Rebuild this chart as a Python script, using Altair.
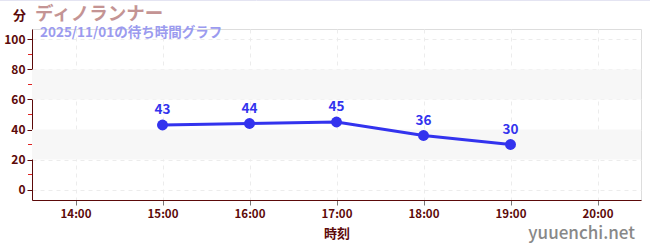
import altair as alt
import pandas as pd

hours = [15, 16, 17, 18, 19]
waits = [43, 44, 45, 36, 30]
band_lo = [20, 60]
band_hi = [40, 80]
minor_ticks = [10, 30, 50, 70, 90]
x_ticks = [14, 15, 16, 17, 18, 19, 20]
y_ticks = [0, 20, 40, 60, 80, 100]

title_text = "ディノランナー"
subtitle_text = "2025/11/01の待ち時間グラフ"
watermark = "yuuenchi.net"

df = pd.DataFrame({"hour": hours, "wait": waits})
bands = pd.DataFrame({"lo": band_lo, "hi": band_hi})
minors = pd.DataFrame({"v": minor_ticks})

AX = "#5c0a0a"
BLUE = "#3333ee"
FONT = "Noto Sans CJK JP"
W = 609

xscale = alt.Scale(domain=[13.5, 20.5], nice=False, zero=False)
yscale = alt.Scale(domain=[-7, 107], nice=False, zero=False)

xaxis = alt.Axis(values=x_ticks, labelExpr="datum.value + ':00'", title="時刻",
                 grid=True, gridDash=[4, 4], gridColor="#ececec",
                 domainColor=AX, tickColor="#777777", tickSize=5,
                 labelColor=AX, labelFont=FONT, labelFontWeight="bold", labelFontSize=11.5,
                 titleColor=AX, titleFont=FONT, titleFontWeight="bold", titleFontSize=13,
                 titlePadding=8, labelPadding=3, labelOverlap=False)
yaxis = alt.Axis(values=y_ticks, title="分", titleAngle=0, titleX=-13, titleY=-14,
                 titleAlign="center", titleBaseline="middle",
                 grid=True, gridDash=[4, 4], gridColor="#ececec",
                 domainColor=AX, tickColor=AX, tickSize=5,
                 labelColor=AX, labelFont=FONT, labelFontWeight="bold", labelFontSize=12,
                 titleColor=AX, titleFont=FONT, titleFontWeight="bold", titleFontSize=13,
                 labelPadding=2, labelOverlap=False)

band_layer = alt.Chart(bands).mark_rect(fill="#f7f7f7").encode(
    y=alt.Y("lo:Q", scale=yscale, axis=yaxis),
    y2="hi:Q",
    x=alt.value(0), x2=alt.value(W),
)

minor_layer = alt.Chart(minors).mark_rule(color="#dd2222", strokeWidth=1).encode(
    y=alt.Y("v:Q", scale=yscale, axis=yaxis),
    x=alt.value(-4), x2=alt.value(0),
)

base = alt.Chart(df).encode(
    x=alt.X("hour:Q", scale=xscale, axis=xaxis),
    y=alt.Y("wait:Q", scale=yscale, axis=yaxis),
)
line = base.mark_line(color=BLUE, strokeWidth=3)
pts = base.mark_point(filled=True, color=BLUE, size=120, opacity=1)
labels = base.mark_text(color=BLUE, dy=-15, fontSize=13.5, fontWeight="bold", font=FONT).encode(
    text="wait:Q")

txt = pd.DataFrame({"t": [title_text]})
title_layer = alt.Chart(txt).mark_text(align="left", baseline="alphabetic", fontSize=18.5,
                                       fontWeight="bold", font=FONT, color="#c49494").encode(
    x=alt.value(3), y=alt.value(-9), text="t:N")
sub = pd.DataFrame({"t": [subtitle_text]})
sub_layer = alt.Chart(sub).mark_text(align="left", baseline="alphabetic", fontSize=13.5,
                                     fontWeight="bold", font=FONT, color="#9b9bef").encode(
    x=alt.value(8), y=alt.value(8), text="t:N")
wm = pd.DataFrame({"t": [watermark]})
wm_layer = alt.Chart(wm).mark_text(align="right", baseline="alphabetic", fontSize=17,
                                   fontWeight=500, font=FONT, color="#888888").encode(
    x=alt.value(603), y=alt.value(210), text="t:N")
border = alt.Chart(txt).mark_rule(color="#e4e4f2", strokeWidth=1).encode(
    x=alt.value(-32), x2=alt.value(618), y=alt.value(-28.5))

chart = alt.layer(band_layer, minor_layer, line, pts, labels, title_layer, sub_layer, wm_layer, border).properties(
    width=W, height=171,
    padding={"left": 32, "top": 29, "right": 9, "bottom": 50},
    autosize=alt.AutoSizeParams(type="none"),
).configure_view(stroke=None).configure(background="white").configure_axis(labelOverlap=False)

chart.save("out.html", embed_options={"renderer": "svg", "actions": False})
